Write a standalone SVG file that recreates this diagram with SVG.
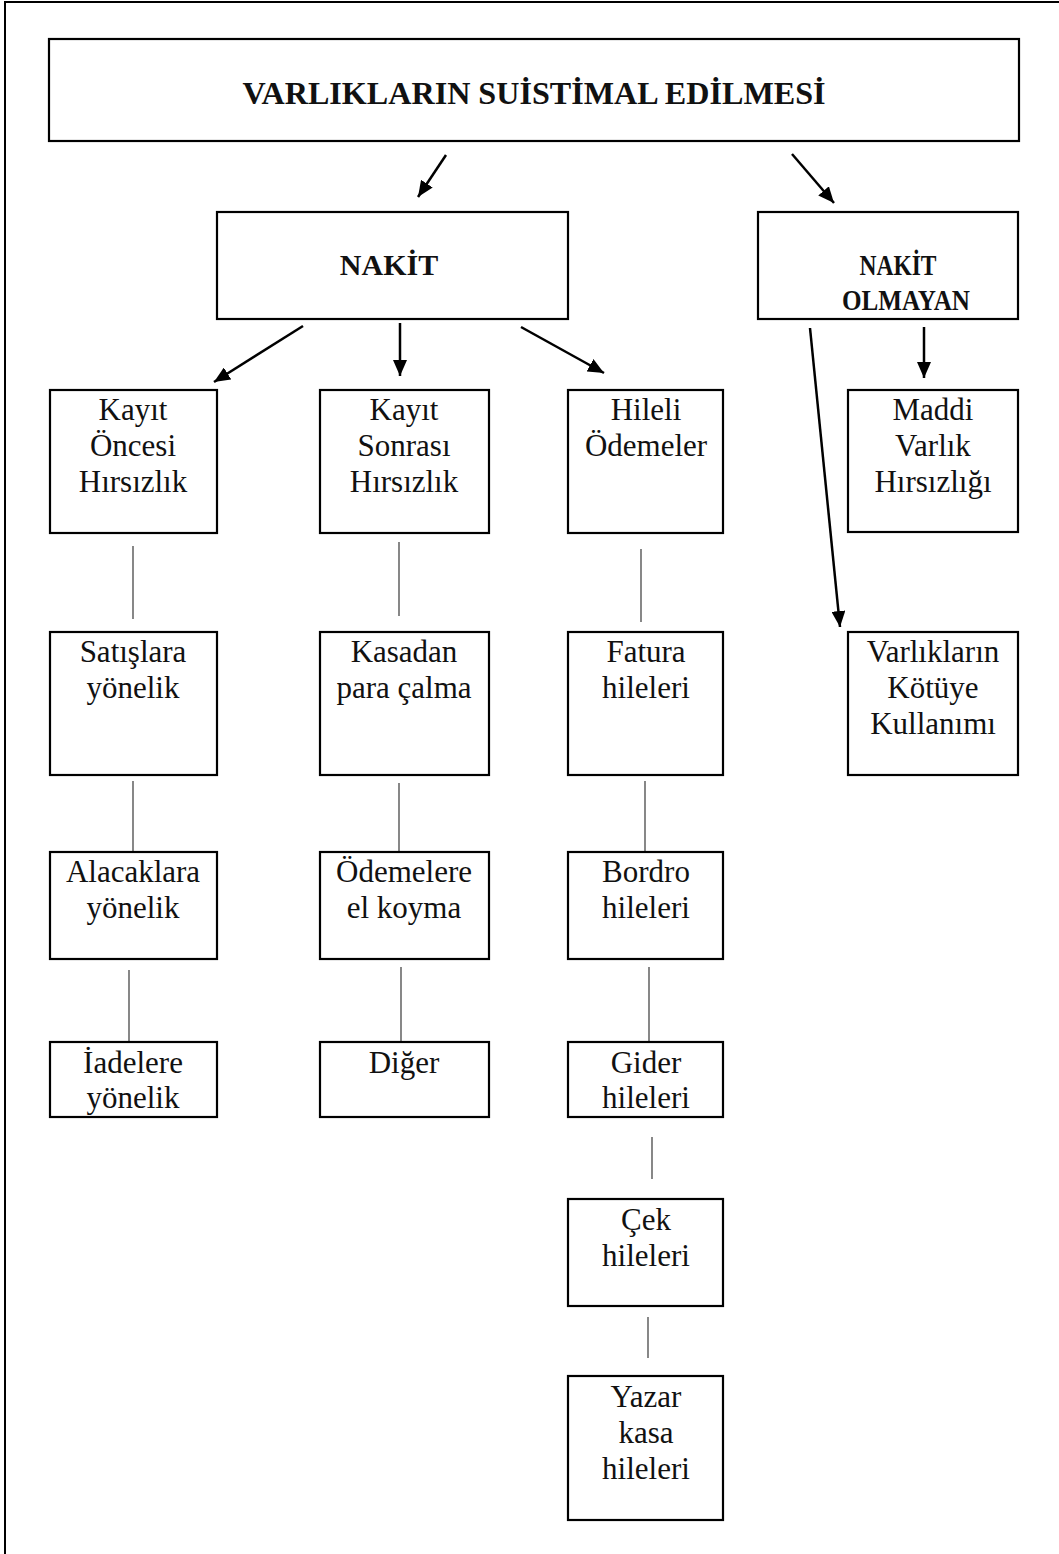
<svg xmlns="http://www.w3.org/2000/svg" width="1059" height="1554" viewBox="0 0 1059 1554">
<style>
.box{fill:#fff;stroke:#000;stroke-width:2.2}
.t{font-family:"Liberation Serif","Times New Roman",serif;font-size:31px;fill:#111;text-anchor:middle}
.b{font-weight:bold;font-size:30px}
.arr{stroke:#000;stroke-width:2.5;fill:none;marker-end:url(#ah)}
.ln{stroke:#555;stroke-width:1.4;fill:none}
</style>
<defs>
<marker id="ah" markerUnits="userSpaceOnUse" viewBox="0 0 16 14" refX="16" refY="7" markerWidth="16" markerHeight="14" orient="auto">
<path d="M0,0 L16,7 L0,14 z" fill="#000"/>
</marker>
</defs>
<rect width="1059" height="1554" fill="#fff"/>
<g id="frame">
<line x1="5" y1="2" x2="1059" y2="2" stroke="#000" stroke-width="2"/>
<line x1="5" y1="1" x2="5" y2="1554" stroke="#000" stroke-width="2"/>
</g>
<g id="connectors">
<line class="arr" x1="446" y1="155" x2="418" y2="197"/>
<line class="arr" x1="792" y1="154" x2="834" y2="203"/>
<line class="arr" x1="303" y1="326" x2="214" y2="382"/>
<line class="arr" x1="400" y1="323" x2="400" y2="376"/>
<line class="arr" x1="521" y1="327" x2="604" y2="373"/>
<line class="arr" x1="924" y1="327" x2="924" y2="378"/>
<line class="arr" x1="810" y1="328" x2="840" y2="627"/>
<line class="ln" x1="133" y1="546" x2="133" y2="619"/>
<line class="ln" x1="399" y1="542" x2="399" y2="616"/>
<line class="ln" x1="641" y1="549" x2="641" y2="622"/>
<line class="ln" x1="133" y1="781" x2="133" y2="853"/>
<line class="ln" x1="399" y1="783" x2="399" y2="857"/>
<line class="ln" x1="645" y1="781" x2="645" y2="854"/>
<line class="ln" x1="129" y1="970" x2="129" y2="1043"/>
<line class="ln" x1="401" y1="967" x2="401" y2="1042"/>
<line class="ln" x1="649" y1="967" x2="649" y2="1042"/>
<line class="ln" x1="652" y1="1137" x2="652" y2="1179"/>
<line class="ln" x1="648" y1="1317" x2="648" y2="1358"/>
</g>
<g id="title"><rect class="box" x="49" y="39" width="970" height="102"/><text class="t b" x="534" y="104" style="font-size:31px" textLength="583" lengthAdjust="spacingAndGlyphs">VARLIKLARIN SUİSTİMAL EDİLMESİ</text></g>
<g id="nakit"><rect class="box" x="217" y="212" width="351" height="107"/><text class="t b" x="389" y="275">NAKİT</text></g>
<g id="nakit-olmayan"><rect class="box" x="758" y="212" width="260" height="107"/><text class="t b" x="898" y="275" textLength="77" lengthAdjust="spacingAndGlyphs">NAKİT</text><text class="t b" x="906" y="310" textLength="128" lengthAdjust="spacingAndGlyphs">OLMAYAN</text></g>
<g id="kayit-oncesi"><rect class="box" x="50" y="390" width="167" height="143"/><text class="t" x="133" y="420">Kayıt</text><text class="t" x="133" y="456">Öncesi</text><text class="t" x="133" y="492">Hırsızlık</text></g>
<g id="kayit-sonrasi"><rect class="box" x="320" y="390" width="169" height="143"/><text class="t" x="404" y="420">Kayıt</text><text class="t" x="404" y="456">Sonrası</text><text class="t" x="404" y="492">Hırsızlık</text></g>
<g id="hileli"><rect class="box" x="568" y="390" width="155" height="143"/><text class="t" x="646" y="420">Hileli</text><text class="t" x="646" y="456">Ödemeler</text></g>
<g id="maddi"><rect class="box" x="848" y="390" width="170" height="142"/><text class="t" x="933" y="420">Maddi</text><text class="t" x="933" y="456">Varlık</text><text class="t" x="933" y="492">Hırsızlığı</text></g>
<g id="satislara"><rect class="box" x="50" y="632" width="167" height="143"/><text class="t" x="133" y="662">Satışlara</text><text class="t" x="133" y="698">yönelik</text></g>
<g id="kasadan"><rect class="box" x="320" y="632" width="169" height="143"/><text class="t" x="404" y="662">Kasadan</text><text class="t" x="404" y="698">para çalma</text></g>
<g id="fatura"><rect class="box" x="568" y="632" width="155" height="143"/><text class="t" x="646" y="662">Fatura</text><text class="t" x="646" y="698">hileleri</text></g>
<g id="varliklarin"><rect class="box" x="848" y="632" width="170" height="143"/><text class="t" x="933" y="662">Varlıkların</text><text class="t" x="933" y="698">Kötüye</text><text class="t" x="933" y="734">Kullanımı</text></g>
<g id="alacaklara"><rect class="box" x="50" y="852" width="167" height="107"/><text class="t" x="133" y="882">Alacaklara</text><text class="t" x="133" y="918">yönelik</text></g>
<g id="odemelere"><rect class="box" x="320" y="852" width="169" height="107"/><text class="t" x="404" y="882">Ödemelere</text><text class="t" x="404" y="918">el koyma</text></g>
<g id="bordro"><rect class="box" x="568" y="852" width="155" height="107"/><text class="t" x="646" y="882">Bordro</text><text class="t" x="646" y="918">hileleri</text></g>
<g id="iadelere"><rect class="box" x="50" y="1042" width="167" height="75"/><text class="t" x="133" y="1073">İadelere</text><text class="t" x="133" y="1108">yönelik</text></g>
<g id="diger"><rect class="box" x="320" y="1042" width="169" height="75"/><text class="t" x="404" y="1073">Diğer</text></g>
<g id="gider"><rect class="box" x="568" y="1042" width="155" height="75"/><text class="t" x="646" y="1073">Gider</text><text class="t" x="646" y="1108">hileleri</text></g>
<g id="cek"><rect class="box" x="568" y="1199" width="155" height="107"/><text class="t" x="646" y="1230">Çek</text><text class="t" x="646" y="1266">hileleri</text></g>
<g id="yazar"><rect class="box" x="568" y="1376" width="155" height="144"/><text class="t" x="646" y="1407">Yazar</text><text class="t" x="646" y="1443">kasa</text><text class="t" x="646" y="1479">hileleri</text></g>
</svg>
